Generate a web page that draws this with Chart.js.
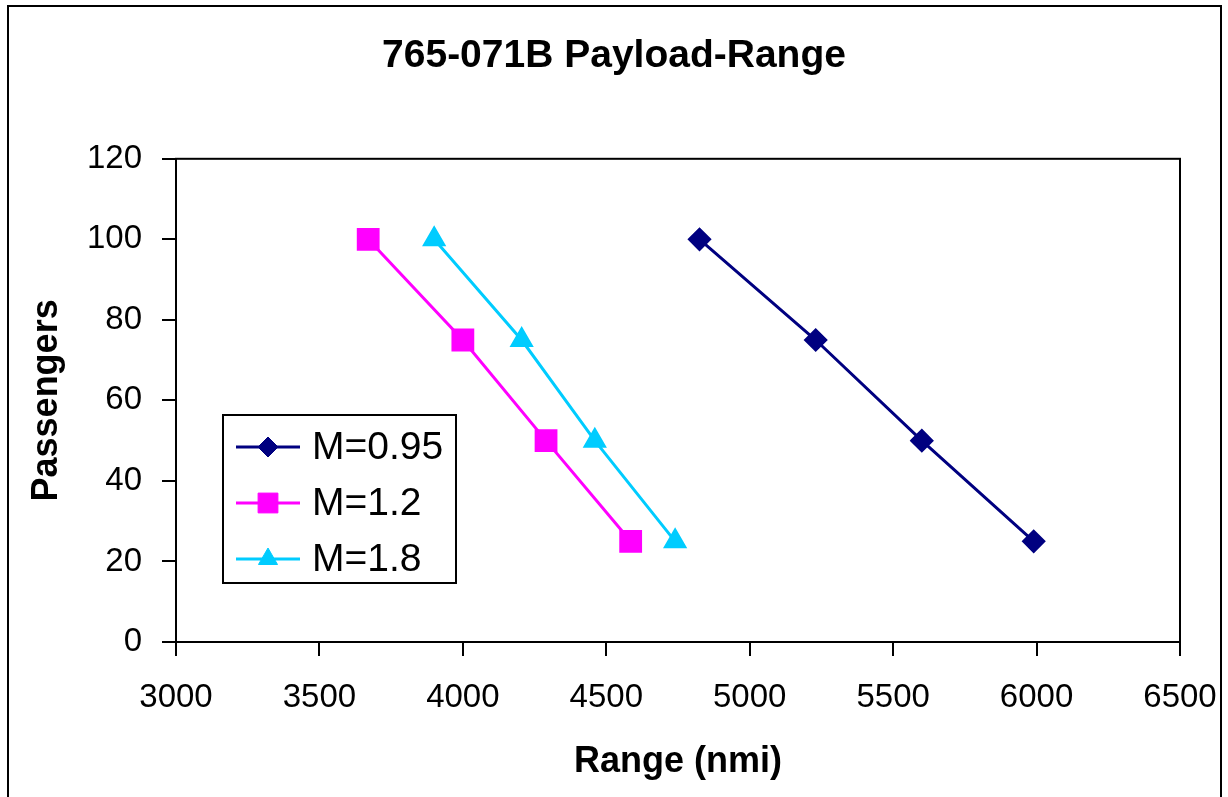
<!DOCTYPE html>
<html>
<head>
<meta charset="utf-8">
<title>765-071B Payload-Range</title>
<script src="https://cdn.jsdelivr.net/npm/chart.js@4.4.1/dist/chart.umd.min.js"></script>
<style>
    html, body { margin: 0; padding: 0; background: #ffffff; }
    #wrap { width: 1228px; height: 797px; position: relative; }
    canvas { display: block; }
</style>
</head>
<body>
<div id="wrap"><canvas id="payloadChart" width="1228" height="797"></canvas></div>
<script>
// Chart data
const seriesNames = ['M=0.95', 'M=1.2', 'M=1.8'];
const passengers = [100, 75, 50, 25];
const rangeM095 = [4825, 5230, 5600, 5990];
const rangeM12 = [3670, 4000, 4290, 4585];
const rangeM18 = [3900, 4205, 4460, 4740];
const xTicks = [3000, 3500, 4000, 4500, 5000, 5500, 6000, 6500];
const yTicks = [0, 20, 40, 60, 80, 100, 120];

const FONT = "Arial, 'Liberation Sans', sans-serif";

function toPoints(xs) {
    return xs.map((x, i) => ({ x: x, y: passengers[i] }));
}

// Frame around the whole picture and box around the plot area
const framePlugin = {
    id: 'frame',
    afterDraw(chart) {
        const ctx = chart.ctx;
        const a = chart.chartArea;
        ctx.save();
        ctx.strokeStyle = '#000';
        ctx.lineWidth = 2;
        ctx.strokeRect(a.left, a.top, a.right - a.left, a.bottom - a.top);
        ctx.strokeRect(8, 6, 1213, 900);
        ctx.restore();
    }
};

// Legend drawn inside the plot area, like the original
const boxLegend = {
    id: 'boxLegend',
    afterDraw(chart) {
        const ctx = chart.ctx;
        const left = 223, top = 415, right = 456, bottom = 583;
        ctx.save();
        ctx.fillStyle = '#fff';
        ctx.fillRect(left, top, right - left, bottom - top);
        ctx.strokeStyle = '#000';
        ctx.lineWidth = 2;
        ctx.strokeRect(left, top, right - left, bottom - top);
        chart.data.datasets.forEach((ds, i) => {
            const y = 447 + i * 56;
            ctx.strokeStyle = ds.borderColor;
            ctx.lineWidth = 3;
            ctx.beginPath();
            ctx.moveTo(236, y);
            ctx.lineTo(300, y);
            ctx.stroke();
            ctx.fillStyle = ds.backgroundColor;
            ctx.strokeStyle = ds.borderColor;
            ctx.lineWidth = 1;
            Chart.helpers.drawPoint(ctx, { pointStyle: ds.pointStyle, radius: ds.pointRadius, borderWidth: 1, rotation: 0 }, 268, y);
            ctx.fillStyle = '#000';
            ctx.font = '39px ' + FONT;
            ctx.textBaseline = 'middle';
            ctx.textAlign = 'left';
            ctx.fillText(ds.label, 312, y + 1);
        });
        ctx.restore();
    }
};

const ctx = document.getElementById('payloadChart').getContext('2d');
const chart = new Chart(ctx, {
    type: 'scatter',
    data: {
        datasets: [
            {
                label: seriesNames[0],
                data: toPoints(rangeM095),
                borderColor: '#000080',
                backgroundColor: '#000080',
                pointStyle: 'rectRot',
                pointRadius: 10,
                borderWidth: 3
            },
            {
                label: seriesNames[1],
                data: toPoints(rangeM12),
                borderColor: '#ff00ff',
                backgroundColor: '#ff00ff',
                pointStyle: 'rect',
                pointRadius: 14,
                borderWidth: 3
            },
            {
                label: seriesNames[2],
                data: toPoints(rangeM18),
                borderColor: '#00ccff',
                backgroundColor: '#00ccff',
                pointStyle: 'triangle',
                pointRadius: 11,
                borderWidth: 3
            }
        ]
    },
    options: {
        responsive: false,
        animation: false,
        devicePixelRatio: 1,
        showLine: true,
        layout: { padding: 0 },
        elements: {
            line: { tension: 0, borderWidth: 3 },
            point: { hoverRadius: 10, borderWidth: 1 }
        },
        plugins: {
            legend: { display: false },
            tooltip: { enabled: false },
            title: {
                display: true,
                text: '765-071B Payload-Range',
                color: '#000',
                font: { family: FONT, size: 39, weight: 'bold' },
                padding: { top: 33, bottom: 79 }
            }
        },
        scales: {
            x: {
                type: 'linear',
                min: xTicks[0],
                max: xTicks[xTicks.length - 1],
                afterBuildTicks: scale => { scale.ticks = xTicks.map(v => ({ value: v })); },
                afterFit: scale => {
                    scale.height = 155;
                    scale.paddingLeft = 40;
                    scale.paddingRight = 48;
                },
                grid: { display: true, drawOnChartArea: false, drawTicks: true, tickLength: 14, color: '#000', lineWidth: 2 },
                border: { display: true, color: '#000', width: 2 },
                ticks: {
                    color: '#000',
                    font: { family: FONT, size: 33 },
                    padding: 22,
                    maxRotation: 0,
                    callback: v => String(v)
                },
                title: {
                    display: true,
                    text: 'Range (nmi)',
                    color: '#000',
                    font: { family: FONT, size: 36, weight: 'bold' },
                    padding: { top: 0, bottom: 13 }
                }
            },
            y: {
                type: 'linear',
                min: yTicks[0],
                max: yTicks[yTicks.length - 1],
                afterBuildTicks: scale => { scale.ticks = yTicks.map(v => ({ value: v })); },
                afterFit: scale => { scale.width = 176; },
                grid: { display: true, drawOnChartArea: false, drawTicks: true, tickLength: 14, color: '#000', lineWidth: 2 },
                border: { display: true, color: '#000', width: 2 },
                ticks: {
                    color: '#000',
                    font: { family: FONT, size: 33 },
                    padding: 20,
                    callback: v => String(v)
                },
                title: {
                    display: true,
                    text: 'Passengers',
                    color: '#000',
                    font: { family: FONT, size: 36, weight: 'bold' },
                    padding: { top: 25, bottom: 0 }
                }
            }
        }
    },
    plugins: [framePlugin, boxLegend]
});
</script>
</body>
</html>
